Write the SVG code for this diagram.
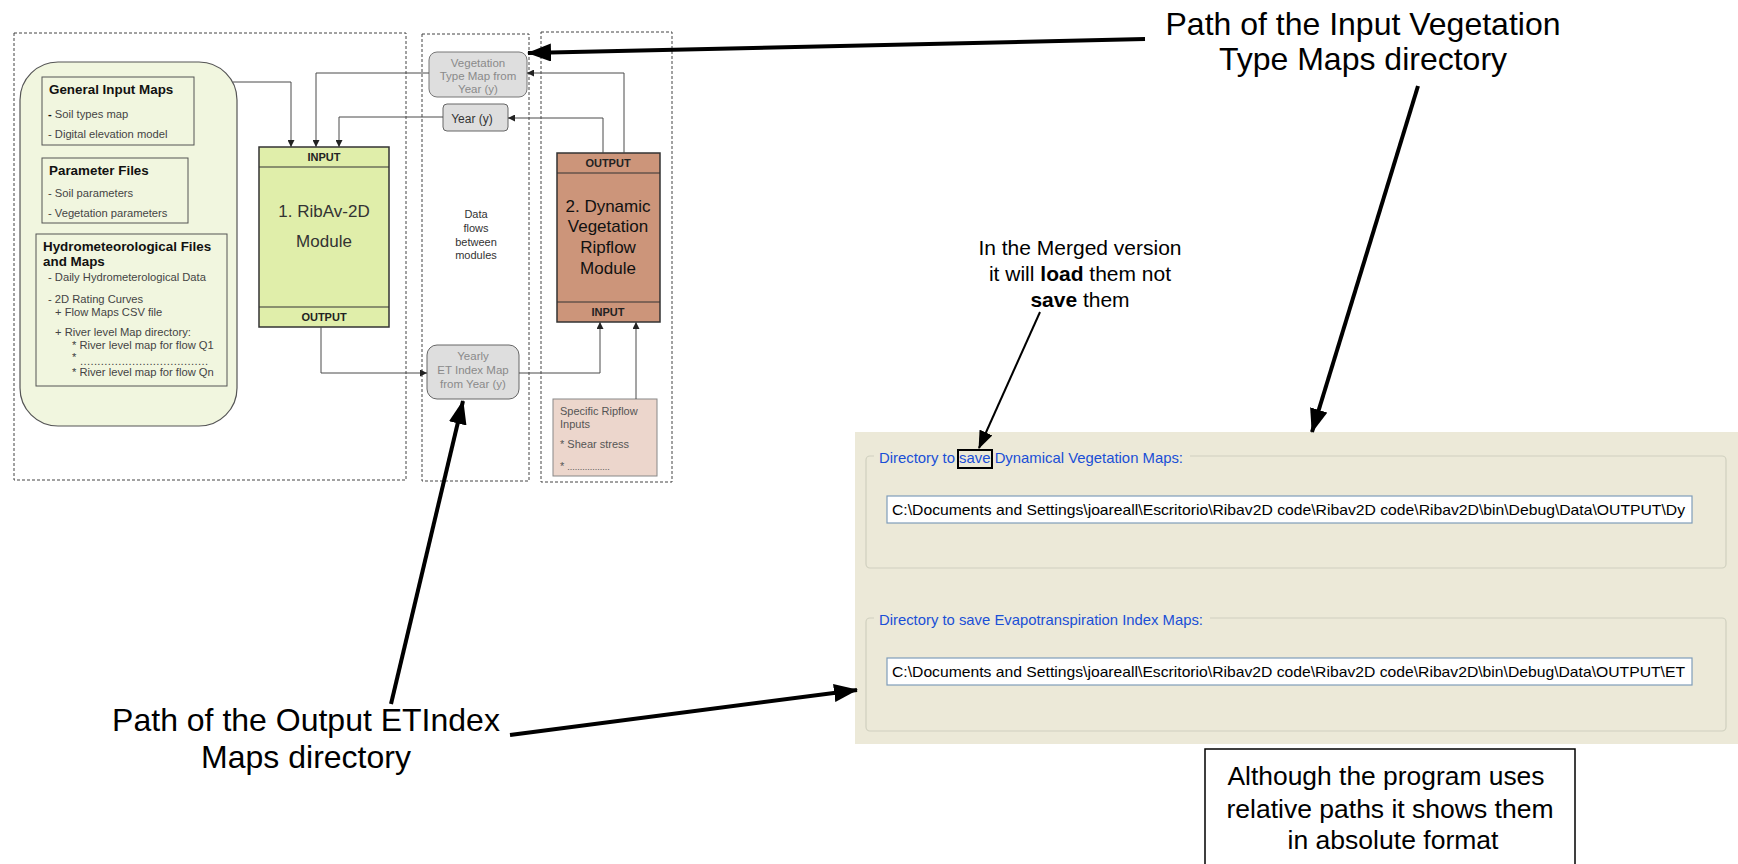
<svg xmlns="http://www.w3.org/2000/svg" width="1738" height="864" viewBox="0 0 1738 864">
<defs>
<marker id="sa" markerUnits="userSpaceOnUse" markerWidth="7" markerHeight="7" refX="7" refY="3.5" orient="auto"><path d="M0,0 L7,3.5 L0,7 z" fill="#222"/></marker>
<marker id="ba" markerUnits="userSpaceOnUse" markerWidth="24" markerHeight="18" refX="23" refY="9" orient="auto"><path d="M0,0 L24,9 L0,18 z" fill="#000"/></marker>
<marker id="ma" markerUnits="userSpaceOnUse" markerWidth="18" markerHeight="14" refX="17" refY="7" orient="auto"><path d="M0,0 L18,7 L0,14 z" fill="#000"/></marker>
</defs>
<style>
text{font-family:"Liberation Sans",Arial,sans-serif}
.dash{fill:none;stroke:#444;stroke-width:1;stroke-dasharray:3,2}
.ibox{fill:none;stroke:#555;stroke-width:1}
.hd{font-size:13.4px;font-weight:bold;fill:#111}
.sm{font-size:11.2px;fill:#444}
.gray{font-size:11.5px;fill:#8a8a8a;text-anchor:middle}
.band{font-size:11px;font-weight:bold;fill:#222;text-anchor:middle}
.mod{font-size:17px;text-anchor:middle}
.con{fill:none;stroke:#4a4a4a;stroke-width:1;marker-end:url(#sa)}
.big{fill:none;stroke:#000;stroke-width:4;marker-end:url(#ba)}
.ann{font-size:32px;fill:#000;text-anchor:middle}
.lbl{font-size:14.8px;fill:#1a4fd6}
.path{font-size:15px;fill:#000}
.fld{fill:#fff;stroke:#7f9db9;stroke-width:1.2}
.gb{fill:none;stroke:#d0d0bf;stroke-width:1.2}
</style>
<rect x="0" y="0" width="1738" height="864" fill="#fff"/>

<g id="frames">
<rect class="dash" x="14" y="33" width="392" height="447"/>
<rect class="dash" x="422" y="34" width="107" height="447"/>
<rect class="dash" x="541" y="32" width="131" height="450"/>
</g>

<g id="inputs-panel">
<rect x="20" y="62" width="217" height="364" rx="38" ry="38" fill="#f1f6df" stroke="#555" stroke-width="1.2"/>
<rect class="ibox" x="42" y="77" width="152" height="68"/>
<text class="hd" x="49" y="94">General Input Maps</text>
<text class="sm" x="48" y="118"><tspan font-weight="bold" fill="#111">-</tspan> Soil types map</text>
<text class="sm" x="48" y="138">- Digital elevation model</text>
<rect class="ibox" x="42" y="158" width="146" height="65"/>
<text class="hd" x="49" y="175">Parameter Files</text>
<text class="sm" x="48" y="197">- Soil parameters</text>
<text class="sm" x="48" y="217">- Vegetation parameters</text>
<rect class="ibox" x="36" y="234" width="191" height="152"/>
<text class="hd" x="43" y="251">Hydrometeorological Files</text>
<text class="hd" x="43" y="266">and Maps</text>
<text class="sm" x="48" y="281">- Daily Hydrometerological Data</text>
<text class="sm" x="48" y="303">- 2D Rating Curves</text>
<text class="sm" x="55" y="316">+ Flow Maps CSV file</text>
<text class="sm" x="55" y="336">+ River level  Map directory:</text>
<text class="sm" x="72" y="349">* River level map for flow Q1</text>
<text class="sm" x="72" y="361">*</text>
<text class="sm" x="80" y="365" font-size="9" textLength="128" lengthAdjust="spacing">.....................................</text>
<text class="sm" x="72" y="376">* River level map for flow Qn</text>
</g>

<g id="module1">
<rect x="259" y="147" width="130" height="180" fill="#e0eeaa" stroke="#333" stroke-width="1.5"/>
<line x1="259" y1="167" x2="389" y2="167" stroke="#333" stroke-width="1"/>
<line x1="259" y1="307" x2="389" y2="307" stroke="#333" stroke-width="1"/>
<text class="band" x="324" y="161">INPUT</text>
<text class="band" x="324" y="321">OUTPUT</text>
<text class="mod" x="324" y="217" fill="#333">1. RibAv-2D</text>
<text class="mod" x="324" y="247" fill="#333">Module</text>
</g>

<g id="veg-type-map">
<rect x="429" y="52" width="98" height="45" rx="8" fill="#dedede" stroke="#777" stroke-width="1"/>
<text class="gray" x="478" y="67">Vegetation</text>
<text class="gray" x="478" y="80">Type Map from</text>
<text class="gray" x="478" y="93">Year (y)</text>
</g>

<g id="year">
<rect x="443" y="104" width="65" height="27" rx="4" fill="#dedede" stroke="#666" stroke-width="1"/>
<text x="472" y="123" font-size="12" fill="#333" text-anchor="middle">Year (y)</text>
</g>

<g id="data-flows">
<text x="476" y="218" font-size="11" fill="#333" text-anchor="middle">Data</text>
<text x="476" y="232" font-size="11" fill="#333" text-anchor="middle">flows</text>
<text x="476" y="246" font-size="11" fill="#333" text-anchor="middle">between</text>
<text x="476" y="259" font-size="11" fill="#333" text-anchor="middle">modules</text>
</g>

<g id="et-index-map">
<rect x="427" y="345" width="92" height="54" rx="10" fill="#dedede" stroke="#666" stroke-width="1"/>
<text class="gray" x="473" y="360">Yearly</text>
<text class="gray" x="473" y="374">ET Index Map</text>
<text class="gray" x="473" y="388">from Year (y)</text>
</g>

<g id="module2">
<rect x="557" y="153" width="103" height="169" fill="#cc957a" stroke="#333" stroke-width="1.5"/>
<line x1="557" y1="173" x2="660" y2="173" stroke="#333" stroke-width="1"/>
<line x1="557" y1="302" x2="660" y2="302" stroke="#333" stroke-width="1"/>
<text class="band" x="608" y="167">OUTPUT</text>
<text class="band" x="608" y="316">INPUT</text>
<text class="mod" x="608" y="212" fill="#111">2. Dynamic</text>
<text class="mod" x="608" y="232" fill="#111">Vegetation</text>
<text class="mod" x="608" y="253" fill="#111">Ripflow</text>
<text class="mod" x="608" y="274" fill="#111">Module</text>
</g>

<g id="ripflow-inputs">
<rect x="553" y="399" width="104" height="77" fill="#ecd6cc" stroke="#888" stroke-width="1"/>
<text x="560" y="415" font-size="11" fill="#555">Specific Ripflow</text>
<text x="560" y="428" font-size="11" fill="#555">Inputs</text>
<text x="560" y="448" font-size="11" fill="#555">* Shear stress</text>
<text x="560" y="470" font-size="11" fill="#555">* <tspan font-size="9">.................</tspan></text>
</g>

<g id="settings-panel">
<rect x="855" y="432" width="883" height="312" fill="#ece9d8"/>
<rect class="gb" x="866" y="456" width="860" height="112" rx="4"/>
<rect x="874" y="448" width="316" height="18" fill="#ece9d8"/>
<text class="lbl" x="879" y="463" textLength="304" lengthAdjust="spacingAndGlyphs">Directory to save Dynamical Vegetation Maps:</text>
<rect x="958" y="450" width="34" height="18" fill="none" stroke="#000" stroke-width="2"/>
<rect class="fld" x="887" y="496" width="805" height="27"/>
<text class="path" x="892" y="515" textLength="793" lengthAdjust="spacingAndGlyphs">C:\Documents and Settings\joareall\Escritorio\Ribav2D code\Ribav2D code\Ribav2D\bin\Debug\Data\OUTPUT\Dy</text>
<rect class="gb" x="866" y="618" width="860" height="113" rx="4"/>
<rect x="874" y="610" width="336" height="18" fill="#ece9d8"/>
<text class="lbl" x="879" y="625" textLength="324" lengthAdjust="spacingAndGlyphs">Directory to save Evapotranspiration Index Maps:</text>
<rect class="fld" x="887" y="658" width="805" height="27"/>
<text class="path" x="892" y="677" textLength="793" lengthAdjust="spacingAndGlyphs">C:\Documents and Settings\joareall\Escritorio\Ribav2D code\Ribav2D code\Ribav2D\bin\Debug\Data\OUTPUT\ET</text>
</g>

<g id="note-input-path">
<text class="ann" x="1363" y="35">Path of the Input Vegetation</text>
<text class="ann" x="1363" y="70">Type Maps directory</text>
</g>

<g id="note-output-path">
<text class="ann" x="306" y="731">Path of the Output ETIndex</text>
<text class="ann" x="306" y="768">Maps directory</text>
</g>

<g id="note-merged">
<text x="1080" y="255" font-size="21" text-anchor="middle">In the Merged version</text>
<text x="1080" y="281" font-size="21" text-anchor="middle">it will <tspan font-weight="bold">load</tspan> them not</text>
<text x="1080" y="307" font-size="21" text-anchor="middle"><tspan font-weight="bold">save</tspan> them</text>
</g>

<g id="note-absolute">
<rect x="1205" y="749" width="370" height="130" fill="#fff" stroke="#000" stroke-width="1.5"/>
<text x="1386" y="785" font-size="26" text-anchor="middle" textLength="317" lengthAdjust="spacingAndGlyphs">Although the program uses</text>
<text x="1390" y="818" font-size="26" text-anchor="middle" textLength="327" lengthAdjust="spacingAndGlyphs">relative paths it shows them</text>
<text x="1393" y="849" font-size="26" text-anchor="middle" textLength="211" lengthAdjust="spacingAndGlyphs">in absolute format</text>
</g>

<g id="connectors">
<polyline class="con" points="233,82 291,82 291,147"/>
<polyline class="con" points="429,73 316,73 316,147"/>
<polyline class="con" points="443,117 339,117 339,147"/>
<polyline class="con" points="624,153 624,73 527,73"/>
<polyline class="con" points="603,153 603,118 508,118"/>
<polyline class="con" points="321,327 321,373 427,373"/>
<polyline class="con" points="519,373 600,373 600,322"/>
<polyline class="con" points="636,399 636,322"/>
<line class="big" x1="1145" y1="39" x2="528" y2="53"/>
<line class="big" x1="1418" y1="86" x2="1312" y2="432"/>
<line class="big" x1="391" y1="704" x2="463" y2="401"/>
<line class="big" x1="510" y1="735" x2="857" y2="690"/>
<line x1="1040" y1="312" x2="979" y2="448" stroke="#000" stroke-width="2" marker-end="url(#ma)"/>
</g>
</svg>
